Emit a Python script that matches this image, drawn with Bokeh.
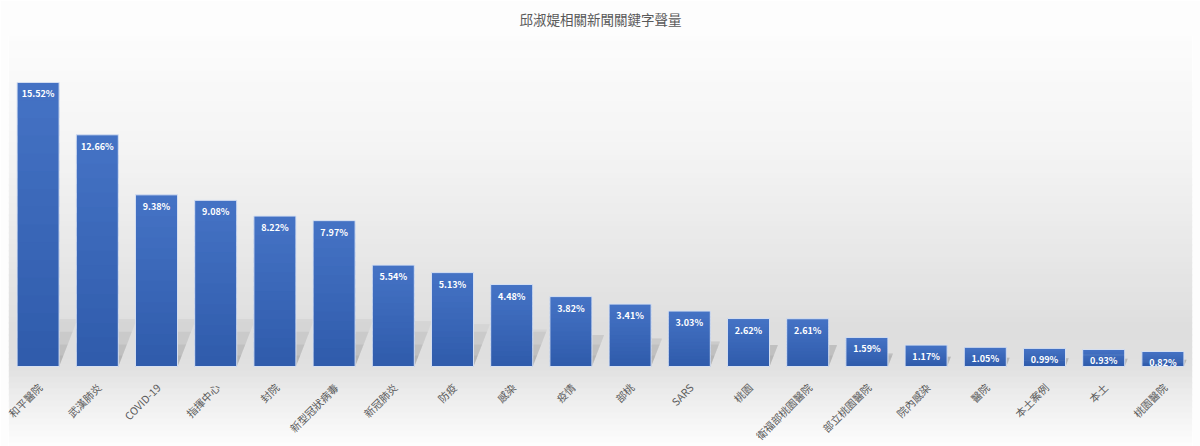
import math
from bokeh.plotting import figure
from bokeh.models import ColumnDataSource, FactorRange, Range1d, BoxAnnotation
from bokeh.core.properties import value
from bokeh.embed import file_html
from bokeh.resources import INLINE

title = "邱淑媞相關新聞關鍵字聲量"
keywords = ["和平醫院", "武漢肺炎", "COVID-19", "指揮中心", "封院", "新型冠狀病毒", "新冠肺炎",
            "防疫", "感染", "疫情", "部桃", "SARS", "桃園", "衛福部桃園醫院", "部立桃園醫院",
            "院內感染", "醫院", "本土案例", "本土", "桃園醫院"]
shares = [15.52, 12.66, 9.38, 9.08, 8.22, 7.97, 5.54, 5.13, 4.48, 3.82, 3.41, 3.03,
          2.62, 2.61, 1.59, 1.17, 1.05, 0.99, 0.93, 0.82]
labels = [f"{v:.2f}%" for v in shares]

FONT = "Noto Sans CJK TC"
W, H = 1200, 446
TOP, BASE = 35, 366          # frame top and baseline (pixels from top)
PX_PER_UNIT = 18.3
Y_END = (BASE - TOP) / PX_PER_UNIT
Y_START = -(H - BASE) / PX_PER_UNIT

p = figure(width=W, height=H, x_range=FactorRange(*keywords, range_padding=0),
           y_range=Range1d(Y_START, Y_END), output_backend="svg", toolbar_location=None,
           min_border_left=8, min_border_right=8, min_border_top=TOP, min_border_bottom=0)

p.title.text = title
p.title.align = "center"
p.title.text_font = FONT
p.title.text_font_size = "13.5px"
p.title.text_font_style = "normal"
p.title.text_color = "#595959"
p.title.standoff = 10
p.title.vertical_align = "top"

p.background_fill_color = "#ffffff"
p.border_fill_color = "#fdfdfd"
p.outline_line_color = None
p.xaxis.visible = False
p.yaxis.visible = False
p.xgrid.grid_line_color = None
p.ygrid.grid_line_color = None

# soft vertical background gradient (style only)
stops = [(TOP, 252), (150, 244), (250, 232), (330, 222), (366, 224), (400, 238), (H, 253)]
def grey_at(py):
    for (y0, g0), (y1, g1) in zip(stops, stops[1:]):
        if y0 <= py <= y1:
            return g0 + (g1 - g0) * (py - y0) / (y1 - y0)
    return stops[-1][1]
step = 6
py = TOP
while py < H:
    g = int(round(grey_at(py + step / 2)))
    top_u = (BASE - py) / PX_PER_UNIT + 0.05
    bot_u = (BASE - (py + step)) / PX_PER_UNIT
    p.add_layout(BoxAnnotation(bottom=bot_u, top=top_u, fill_color=(g, g, g), fill_alpha=1.0,
                               line_color=None, level="underlay"))
    py += step

src = ColumnDataSource(dict(k=keywords, v=shares, lab=labels))

# soft floor shadows cast behind each bar, slanting up to the right
bw = 0.71
for cap, alpha in [(2.6, 0.08), (1.9, 0.10), (1.2, 0.12), (0.6, 0.12)]:
    xs, ys = [], []
    for i, v in enumerate(shares):
        xl = i + 0.5 - bw / 2
        xr = i + 0.5 + bw / 2
        hs = min(v * 0.45, cap)
        dx = hs * 0.12
        xs.append([xl, xr, xr + dx, xl + dx])
        ys.append([0, 0, hs, hs])
    p.patches(xs, ys, fill_color="#707070", fill_alpha=alpha, line_color=None)

# bars with a subtle vertical gradient (overlapping segments of each bar's own height)
c_top = (0x45, 0x73, 0xc5)
c_bot = (0x2f, 0x5b, 0xab)
nseg = 16
for j in range(nseg):
    t = (j + 0.5) / nseg
    col = tuple(int(round(c_bot[k] + (c_top[k] - c_bot[k]) * t)) for k in range(3))
    bottoms = [v * j / nseg for v in shares]
    tops = [min(v, v * (j + 1.6) / nseg) for v in shares]
    p.vbar(x=keywords, bottom=bottoms, top=tops, width=bw, fill_color=col, line_color=None)

p.vbar(x="k", top="v", width=bw, source=src, fill_color=None,
       line_color="#d6e0f2", line_width=1)

# value labels inside bar tops
p.text(x="k", y="v", text="lab", source=src, text_align="center", text_baseline="top",
       y_offset=5, text_color="white", text_font=value(FONT), text_font_size="9px",
       text_font_style="bold")

# rotated category labels
p.text(x="k", y=0, text="k", source=src, angle=math.pi / 4, text_align="right",
       text_baseline="middle", x_offset=2, y_offset=19, text_color="#595959",
       text_font=value(FONT), text_font_size="10.5px")

open("out.html", "w").write(file_html(p, INLINE))
